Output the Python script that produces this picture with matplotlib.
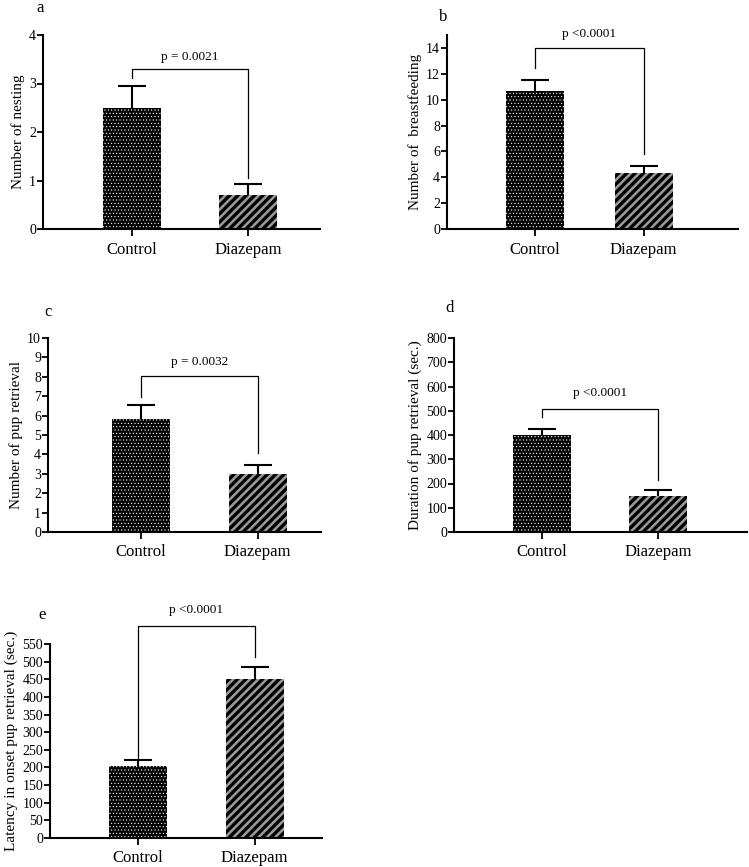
import matplotlib
matplotlib.use("Agg")
import matplotlib.pyplot as plt
import numpy as np

plt.rcParams["font.family"] = ["Liberation Serif", "DejaVu Serif"]

# data
groups = ["Control", "Diazepam"]
panel_labels = ["a", "b", "c", "d", "e"]
ylabels = ["Number of nesting", "Number of  breastfeeding", "Number of pup retrieval",
           "Duration of pup retrieval (sec.)", "Latency in onset pup retrieval (sec.)"]
means_a = [2.5, 0.7]
sem_a = [0.45, 0.22]
means_b = [10.7, 4.3]
sem_b = [0.8, 0.55]
means_c = [5.85, 3.0]
sem_c = [0.7, 0.45]
means_d = [400, 148]
sem_d = [25, 24]
means_e = [205, 450]
sem_e = [15, 34]
p_texts = ["p = 0.0021", "p <0.0001", "p = 0.0032", "p <0.0001", "p <0.0001"]
# bracket: top, left drop end, right drop end, text y
brackets = [(3.3, 3.12, 1.05, 3.55), (14.0, 12.45, 5.8, 15.1), (8.05, 6.95, 4.05, 8.75),
            (507, 474, 214, 575), (601, 227, 513, 645)]
ylims = [4, 15, 10, 800, 550]
yticks = [np.arange(0, 5, 1), np.arange(0, 15, 2), np.arange(0, 11, 1),
          np.arange(0, 801, 100), np.arange(0, 551, 50)]

means = [means_a, means_b, means_c, means_d, means_e]
sems = [sem_a, sem_b, sem_c, sem_d, sem_e]

W, H = 749, 867
fig = plt.figure(figsize=(W / 100, H / 100), dpi=100)

# pixel boxes: left, right, top(ylim), bottom(y=0), centre control, centre diazepam
boxes = [(43, 320, 35, 229, 132, 248),
         (447, 738, 35, 229, 534.5, 643.5),
         (48, 321, 338, 532, 141, 257.5),
         (454, 747, 338, 532, 542, 658),
         (50, 322, 644, 838, 138, 254.5)]
letter_pos = [(40, 8), (443, 17), (48, 312), (450, 308), (42, 615)]

for i in range(5):
    l, r, t, b, c0, c1 = boxes[i]
    ax = fig.add_axes([l / W, 1 - b / H, (r - l) / W, (b - t) / H])
    unit = c1 - c0
    x = np.array([0, 1])
    with plt.rc_context({"hatch.linewidth": 0.4}):
        ax.bar(0, means[i][0], width=58 / unit, color="black", edgecolor="white",
               hatch=".....", linewidth=0, zorder=2)
    with plt.rc_context({"hatch.linewidth": 2.4}):
        ax.bar(1, means[i][1], width=58 / unit, color="#9a9a9a", edgecolor="black",
               hatch="////", linewidth=0, zorder=2)
    eb = ax.errorbar(x, means[i], yerr=[[0, 0], sems[i]], fmt="none", ecolor="black",
                     elinewidth=1.5, capsize=10, capthick=1.5, zorder=1)
    eb[1][0].set_visible(False)
    top, ld, rd, ty = brackets[i]
    ax.plot([0, 0, 1, 1], [ld, top, top, rd], color="black", linewidth=0.9,
            clip_on=False, zorder=3)
    ax.text(0.5, ty, p_texts[i], ha="center", va="center", fontsize=9.5)
    ax.set_xlim((l - c0) / unit, (r - c0) / unit)
    ax.set_ylim(0, ylims[i])
    ax.set_yticks(yticks[i])
    ax.set_xticks(x)
    ax.set_xticklabels(groups, fontsize=12)
    ax.tick_params(axis="y", labelsize=10, width=1.3, length=4, pad=1)
    ax.tick_params(axis="x", width=1.3, length=5, pad=4)
    ax.set_ylabel(ylabels[i], fontsize=11, labelpad=3)
    for s in ["top", "right"]:
        ax.spines[s].set_visible(False)
    for s in ["left", "bottom"]:
        ax.spines[s].set_linewidth(1.5)
    lx, ly = letter_pos[i]
    fig.text(lx / W, 1 - ly / H, panel_labels[i], fontsize=12, ha="center", va="center")

fig.savefig("out.png", dpi=100)
